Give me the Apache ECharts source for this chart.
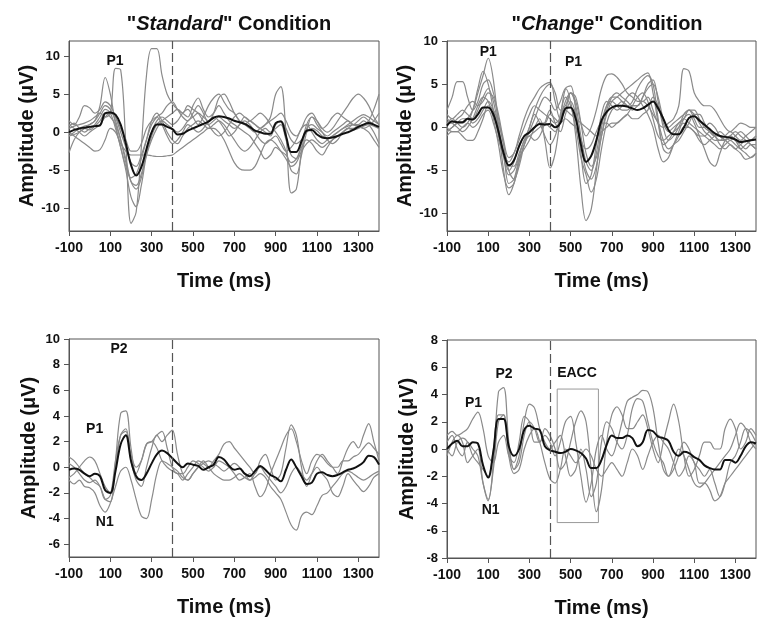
<!DOCTYPE html>
<html>
<head>
<meta charset="utf-8">
<script src="https://cdn.jsdelivr.net/npm/echarts@6/dist/echarts.min.js"></script>
<style>
html,body{margin:0;padding:0;background:#fff;}
#chart{width:757px;height:620px;}
</style>
</head>
<body>
<div id="chart"></div>
<script>
// ---------- shared sampling times (ms) ----------
const TIME = [-100,-75,-50,-25,0,25,50,75,100,125,150,175,200,225,250,275,300,325,350,375,400,425,450,475,500,525,550,575,600,625,650,675,700,725,750,775,800,825,850,875,900,925,950,975,1000,1025,1050,1075,1100,1125,1150,1175,1200,1225,1250,1275,1300,1325,1350,1375,1400];
const X_TICKS = [-100,100,300,500,700,900,1100,1300];

// ---------- Panel A: "Standard" condition, top ----------
const stdTopMean = [0,0.3,0.5,0.6,0.7,0.8,0.9,2.5,2.6,2.3,1.0,-1.5,-4.3,-5.7,-4.6,-2.2,0.0,1.0,1.0,0.7,0.4,-0.3,-0.2,0.2,0.5,0.8,1.1,1.4,1.9,2.1,2.0,1.8,1.5,1.3,1.1,0.7,0.2,0.0,-0.2,-0.2,1.2,1.4,-0.5,-2.6,-2.6,-1.2,0.2,0.3,-0.3,-0.7,-0.8,-0.7,-0.5,-0.2,0.0,0.3,0.7,1.0,1.2,1.0,0.7];
const stdTopS1 = [0.5,0.8,1.0,1.2,1.5,2.0,2.5,2.0,2.5,8.4,8.2,-1.5,-12.0,-10.5,-2.0,7.5,11.0,11.0,7.5,5.0,3.8,3.0,2.5,3.5,3.0,2.5,1.5,1.0,1.5,2.0,1.5,1.0,0.5,1.0,2.0,1.5,1.0,0.5,0.0,-0.5,1.0,1.5,0.5,-1.0,-1.5,-1.0,0.0,0.5,0.2,-0.5,-0.8,-0.5,0.0,0.5,1.0,1.5,2.0,2.3,2.0,1.5,1.0];
const stdTopS2 = [-0.5,0,0.5,0.8,1.0,1.5,3.5,7.2,5.0,1.0,-2.0,-5.0,-8.5,-9.8,-7.0,-3.0,-0.5,1.0,1.5,1.0,0.5,0.0,0.5,1.5,2.0,2.5,2.0,1.5,2.5,4.5,5.0,4.0,2.5,1.5,1.0,1.5,1.0,0.5,1.0,2.0,5.0,6.0,0.0,-8.0,-7.5,-2.5,0.5,1.0,0.5,0.0,-0.5,0.0,0.5,1.0,1.5,1.0,0.8,1.0,1.5,3.0,5.0];
const stdTopS3 = [-2.7,-1.0,0.0,0.5,1.0,1.5,2.5,3.5,3.0,1.5,-1.0,-4.0,-6.5,-7.0,-5.5,-3.0,-1.0,0.5,1.5,2.0,2.5,3.0,2.5,2.0,3.5,4.5,3.0,2.0,2.5,3.5,2.5,1.5,1.0,0.5,0.0,-0.5,-1.5,-2.5,-3.5,-3.0,-2.0,-2.5,-3.0,-4.0,-3.5,-2.0,-1.0,-1.5,-2.5,-3.0,-2.0,-1.0,-0.5,0.0,0.5,0.5,0.8,0.5,0.0,-1.0,-2.0];
const stdTopS4 = [0.0,-0.5,-1.0,-1.5,-2.0,-2.5,-2.3,-1.0,0.5,0.0,-1.5,-2.5,-3.0,-3.0,-3.0,-3.0,-3.1,-3.2,-3.2,-3.1,-3.0,-2.5,-2.0,-1.5,-1.0,-0.5,0.0,0.5,0.5,0.0,-1.0,-2.5,-4.0,-4.8,-5.0,-5.0,-4.5,-3.0,-1.5,-1.0,-1.5,-2.5,-3.5,-4.5,-4.0,-2.5,-1.5,-1.0,-1.5,-2.0,-1.5,-1.0,-0.5,0.0,0.5,0.3,0.5,0.8,1.0,0.8,0.5];
const stdTopS5 = [1.5,1.0,2.0,3.5,3.2,2.5,3.0,4.0,3.5,2.0,0.0,-2.0,-4.0,-4.5,-3.0,-1.0,1.0,2.0,2.5,3.5,4.0,3.0,2.0,1.5,2.5,3.5,2.5,1.0,0.0,-0.5,0.0,1.0,2.0,2.5,2.0,1.5,2.0,2.5,2.0,1.0,0.0,-1.0,-2.5,-5.0,-5.5,-3.0,0.0,2.0,1.5,0.5,0.0,0.5,1.5,2.5,3.5,4.5,5.0,4.5,3.5,2.0,1.0];
const stdTopS6 = [0.8,1.2,0.5,0.0,0.5,1.0,2.0,3.0,2.5,0.5,-2.0,-4.5,-6.0,-5.5,-3.5,-1.0,1.5,2.5,1.5,0.0,-1.0,-1.5,-0.5,0.5,1.0,1.5,1.0,0.5,1.0,1.5,1.0,0.0,-1.0,-2.0,-2.5,-2.0,-1.0,0.0,0.5,0.0,0.5,1.0,-1.0,-3.0,-3.5,-1.5,1.0,2.0,1.0,0.0,-1.0,-1.5,-1.0,0.0,0.5,1.0,1.0,1.5,1.0,0.0,-1.5];
const stdTopS7 = [-0.5,-0.3,0.0,0.5,0.3,0.8,1.5,2.5,2.0,1.0,-1.0,-3.5,-6.5,-7.5,-6.0,-2.5,0.0,1.5,2.0,1.5,1.0,1.5,2.5,3.0,2.0,1.0,2.0,3.5,4.5,5.0,4.0,3.0,2.5,1.5,1.0,0.5,0.0,0.5,1.0,1.5,2.0,2.5,1.5,0.0,-0.5,0.5,2.0,2.5,1.5,0.5,1.0,2.0,2.5,2.0,1.5,1.0,1.5,2.0,1.5,1.0,0.5];
const stdTopS8 = [1.0,0.5,0.0,-0.5,0.0,0.5,1.0,2.0,2.5,2.0,0.5,-1.0,-2.5,-2.5,-1.5,0.5,1.5,2.0,1.0,-0.5,-1.5,-1.0,0.0,1.0,0.5,0.0,0.5,1.5,2.0,1.5,0.5,-0.5,0.0,1.0,1.5,1.0,0.0,-1.0,-1.5,-1.0,-0.5,-1.5,-2.5,-2.0,-1.0,0.5,1.0,0.0,-1.0,-1.5,-1.0,-0.5,0.0,0.5,0.8,1.0,0.8,0.5,0.8,1.5,2.5];

// ---------- Panel B: "Change" condition, top ----------
const chgTopMean = [0.2,0.7,0.6,0.6,1.0,0.9,1.5,2.3,2.3,1.5,-0.5,-3.0,-4.4,-3.8,-2.2,-1.0,-0.6,0.0,0.4,0.3,0.4,0.0,0.5,2.2,2.3,1.0,-2.0,-4.0,-3.3,-1.5,0.8,1.8,2.3,2.5,2.5,2.4,2.2,2.0,2.2,2.6,3.0,2.2,1.0,-0.3,-0.8,-0.8,0.0,1.1,1.3,0.8,0.3,-0.2,-0.7,-1.0,-1.1,-1.2,-1.4,-1.7,-1.6,-1.5,-1.4];
const chgTopS1 = [-0.5,0.0,0.5,0.5,1.0,2.0,4.0,6.0,8.0,5.5,0.0,-5.0,-7.8,-6.5,-4.0,-2.0,-0.5,1.0,2.5,3.5,3.0,2.0,3.0,4.5,3.0,-1.0,-7.0,-10.8,-9.5,-5.0,0.0,2.5,3.5,3.5,3.0,2.5,3.0,4.5,5.5,6.0,5.0,1.0,-2.0,-1.5,-0.5,0.5,1.0,0.5,0.0,-0.5,-1.0,-1.5,-2.0,-2.5,-2.0,-1.5,-2.0,-2.5,-2.0,-1.5,-1.0];
const chgTopS2 = [2.0,3.5,5.3,5.3,3.5,2.0,3.0,5.0,5.5,4.0,1.5,-1.5,-3.5,-3.0,-1.0,1.0,2.5,3.5,4.5,5.0,5.2,3.0,1.0,2.0,4.0,3.0,0.5,-1.0,0.0,2.0,4.5,6.0,6.2,5.8,5.0,4.0,3.5,3.0,3.0,3.5,2.0,0.5,0.0,0.5,1.0,2.5,6.8,6.5,4.0,3.0,2.5,2.5,2.0,1.0,0.0,-0.5,0.0,0.5,0.3,0.0,0.0];
const chgTopS3 = [0.5,1.0,0.5,0.0,0.5,2.0,4.5,6.5,5.0,2.0,-1.0,-3.5,-5.5,-5.0,-3.5,-2.5,-1.5,0.0,1.0,-1.5,-4.7,-3.0,1.0,4.5,4.8,2.0,-3.0,-6.5,-5.5,-2.0,1.5,3.0,2.5,2.0,2.5,3.5,4.0,3.5,2.5,1.5,0.0,-2.5,-4.0,-3.5,-2.0,-0.5,1.0,1.5,0.5,-1.0,-2.5,-4.0,-4.5,-3.0,-1.5,-1.0,-1.5,-2.5,-3.0,-3.5,-3.0];
const chgTopS4 = [-1.0,-0.5,-0.5,-1.0,-1.5,-1.5,-0.5,1.0,2.5,2.0,0.5,-2.0,-5.0,-6.0,-4.5,-2.0,0.0,2.0,3.5,4.5,5.0,4.0,2.0,2.5,4.0,2.5,-1.0,-4.0,-5.0,-3.0,0.5,2.5,3.0,2.5,2.0,2.0,2.5,2.5,3.5,5.0,5.5,3.0,0.0,-1.5,-1.0,0.0,1.5,2.0,1.0,0.0,0.0,0.5,0.0,-1.0,-1.5,-1.0,-0.5,-1.0,-1.5,-2.0,-2.5];
const chgTopS5 = [1.5,1.0,1.5,2.0,1.5,1.0,2.0,3.5,4.5,3.0,0.0,-3.0,-6.5,-6.0,-3.5,-1.5,-1.0,-0.5,0.0,0.5,0.0,-0.5,1.5,3.5,2.5,0.0,-3.5,-5.5,-7.5,-6.0,-2.5,0.5,2.0,2.5,3.0,2.5,2.0,2.5,3.0,2.5,1.5,0.5,-1.5,-2.5,-2.0,-1.0,0.0,0.0,-0.5,-1.0,-1.0,-0.5,-1.0,-2.0,-2.5,-2.0,-2.5,-3.0,-3.7,-3.5,-3.0];
const chgTopS6 = [0.0,-0.5,-0.5,0.0,0.5,0.0,0.5,1.5,2.0,0.5,-1.5,-3.0,-4.0,-3.0,-1.5,0.0,1.5,2.5,2.0,1.5,1.0,0.5,1.0,2.0,1.5,1.0,0.5,0.0,-0.5,-1.0,-0.5,0.0,0.5,0.5,1.0,1.5,2.5,3.5,4.0,3.0,1.0,-1.0,-1.5,-1.0,-0.5,0.0,0.5,0.0,-0.5,-1.5,-2.0,-1.5,-1.0,-0.5,-1.0,-1.5,-1.0,-0.5,-1.0,-1.5,-1.0];
const chgTopS7 = [0.5,0.5,1.0,1.5,2.5,3.0,2.5,3.0,4.0,3.5,1.0,-2.0,-4.5,-4.5,-3.0,-1.5,0.0,1.5,0.5,-1.0,-2.0,-1.0,1.0,3.0,4.0,3.5,0.5,-3.0,-4.5,-3.5,-1.0,1.5,3.0,3.5,4.0,4.5,5.0,5.5,6.0,6.3,4.0,0.5,-2.5,-3.0,-2.0,-1.5,-0.5,0.5,1.5,1.5,0.5,-0.5,-1.0,-1.0,-1.5,-2.0,-2.5,-2.0,-1.5,-2.0,-2.5];
const chgTopS8 = [-0.5,0.0,0.5,1.0,1.0,0.5,1.0,2.0,3.0,2.0,-0.5,-3.0,-5.0,-4.0,-2.0,-1.0,-0.5,0.0,0.5,0.5,1.5,1.0,0.5,1.0,0.5,0.0,-1.5,-2.5,-2.0,-0.5,0.5,0.5,0.0,0.5,1.0,1.5,1.0,1.0,1.5,2.0,3.5,2.5,0.5,-0.5,0.0,0.5,1.0,2.0,2.0,1.0,0.0,-0.5,-1.0,-1.5,-1.5,-1.0,-1.5,-2.0,-2.5,-2.0,-2.0];
const chgTopS9 = [1.0,0.5,0.0,-0.5,0.0,1.0,2.5,3.5,3.0,1.0,-2.0,-5.5,-7.0,-6.5,-4.0,-2.0,-1.0,-1.5,-1.0,0.5,2.0,0.5,-0.5,1.5,3.0,1.5,-2.0,-5.0,-6.0,-4.5,-1.0,2.0,3.5,4.0,3.5,3.0,2.5,2.5,3.5,4.5,5.0,3.5,1.0,0.0,0.5,1.0,1.5,2.0,1.5,0.5,-0.5,-1.0,-1.5,-1.5,-1.0,-0.5,-1.0,-1.5,-1.0,-0.5,0.0];

// ---------- Panel C: "Standard" condition, bottom ----------
const stdBotMean = [-0.2,-0.1,-0.2,-0.5,-0.7,-0.5,-0.7,-1.8,-2.0,-0.3,1.8,2.5,0.5,-0.7,-1.0,-0.5,0.3,1.0,1.3,1.1,0.7,0.3,0.0,0.3,0.2,0.1,-0.2,0.0,0.2,0.8,0.6,0.1,-0.2,-0.1,-0.5,-0.7,-0.3,0.1,-0.2,-0.6,-0.8,-1.1,-0.2,0.6,0.0,-0.7,-1.3,-1.2,-0.5,-0.4,-0.6,-0.7,-0.6,-0.4,-0.2,-0.1,0.1,0.4,0.9,0.8,0.2];
const stdBotS1 = [0.8,0.5,0.0,-0.5,-0.8,-1.2,-1.5,-2.5,-2.7,0.5,4.2,4.4,1.5,-0.5,0.5,1.8,2.0,1.5,0.5,0.0,-0.3,-0.5,-1.0,-0.5,0.0,0.5,0.3,0.0,0.5,1.0,1.8,2.0,1.5,1.0,0.5,0.0,-0.5,0.5,1.0,0.0,-1.0,-0.5,1.5,3.3,2.5,0.0,-1.5,-0.5,0.5,1.0,0.5,0.0,-0.5,0.5,1.5,2.0,1.5,2.5,3.4,2.0,0.5];
const stdBotS2 = [-0.8,-0.5,0.0,0.5,0.8,0.5,-0.5,-1.5,-2.0,0.0,2.5,3.0,1.0,0.0,0.5,1.8,2.0,2.5,2.8,1.5,0.0,-0.5,-0.5,0.0,0.5,0.3,0.0,-0.3,0.0,0.5,0.3,0.0,-0.5,-1.0,-0.8,-0.5,-1.5,-2.3,-1.8,-0.5,0.5,1.5,2.5,3.0,2.0,0.5,-0.5,0.5,1.0,0.8,0.3,0.0,0.0,0.5,0.5,0.8,1.0,1.5,1.9,1.5,1.0];
const stdBotS3 = [0.3,0.0,-0.5,-1.0,-1.2,-1.0,-1.5,-2.5,-2.2,0.5,2.5,2.8,0.5,-1.0,-1.5,0.0,1.5,2.5,2.0,2.5,2.9,1.0,-0.5,-1.0,-0.5,0.0,0.3,0.5,0.3,0.0,-0.3,0.0,0.3,0.0,-0.5,-1.0,-0.5,0.0,-0.5,-1.0,-1.5,-2.0,-1.5,-0.5,0.0,-0.5,-1.0,-0.5,0.0,-0.5,-1.0,-2.0,-2.3,-1.5,-0.5,-1.0,-1.5,-1.9,-1.5,-0.8,-0.5];
const stdBotS4 = [-1.0,-1.3,-1.0,-1.5,-1.6,-2.0,-3.0,-3.5,-2.8,-1.5,-0.3,0.0,-1.0,-2.5,-3.8,-4.0,-2.5,-0.5,0.5,0.3,0.0,-0.3,-0.8,-1.0,-0.5,0.0,0.5,0.0,-0.5,-0.8,-1.0,-1.0,-0.8,-0.5,-0.8,-1.0,-0.8,-0.5,-0.8,-1.5,-2.0,-2.5,-3.5,-4.5,-4.9,-3.8,-3.5,-3.7,-3.0,-2.2,-2.0,-1.5,-1.0,-0.5,-0.3,-0.5,-0.8,-1.0,-0.8,-0.5,-0.3];

// ---------- Panel D: "Change" condition, bottom ----------
const chgBotMean = [0.0,0.4,0.6,0.2,0.2,0.5,0.4,-1.2,-2.1,-0.2,2.2,2.2,0.2,-0.5,0.0,1.4,1.7,1.5,1.4,0.2,-0.1,-0.2,-0.3,-0.2,0.0,-0.1,-0.3,-0.7,-1.4,-1.4,-0.8,0.3,1.0,0.8,0.8,1.0,0.8,0.2,0.5,1.4,1.3,0.9,0.8,0.6,-0.2,-0.5,-0.2,-0.3,-0.6,-0.8,-1.2,-1.4,-1.5,-1.5,-0.8,-0.8,-1.0,-0.5,0.2,0.5,0.4];
const chgBotS1 = [1.0,1.3,1.0,1.2,1.5,2.2,2.7,1.5,-0.5,-1.0,0.5,1.0,-0.5,-1.0,0.5,2.4,2.0,0.5,0.5,1.5,1.0,0.0,-1.5,-1.0,0.5,2.0,2.8,2.0,-1.5,-4.6,-3.0,0.5,2.5,3.1,2.5,1.5,1.5,2.0,2.5,1.5,0.0,-1.0,0.5,2.0,3.3,2.0,-0.5,-2.0,-1.5,-0.5,0.5,0.5,0.0,0.0,1.5,2.2,1.5,0.0,0.5,1.5,1.0];
const chgBotS2 = [-0.5,0.5,1.0,0.5,-1.0,-0.5,0.0,-2.5,-3.8,-1.0,4.2,4.5,0.5,-1.5,-0.5,2.0,3.3,3.0,1.5,0.5,0.0,0.5,1.0,-0.5,-2.0,-1.5,0.0,-1.5,-3.5,-2.5,0.5,2.0,1.5,0.5,0.0,1.0,3.0,3.7,3.5,2.0,0.5,-0.5,-1.0,-2.0,-1.5,-0.5,0.5,0.0,-1.0,-1.5,-2.0,-1.5,-2.5,-3.5,-2.5,-1.0,-0.5,0.5,1.5,1.2,0.5];
const chgBotS3 = [0.5,1.0,0.0,-0.5,0.5,0.0,-0.5,-2.5,-3.7,-1.5,2.0,2.5,0.0,-1.5,-1.0,1.0,2.0,1.5,0.5,1.0,0.5,-0.5,0.5,2.0,2.4,0.5,-2.0,-3.9,-2.5,0.0,1.0,0.0,-0.5,0.5,2.0,3.5,3.8,4.0,4.3,4.2,3.0,0.5,-1.5,-2.0,-1.0,0.0,-0.5,-1.5,-2.5,-2.8,-2.5,-2.0,-1.5,-1.0,-0.5,0.0,1.0,1.9,1.5,0.5,0.0];
const chgBotS4 = [0.0,-0.5,0.5,0.8,0.5,-0.5,-1.0,-1.5,-2.0,0.0,2.5,2.5,-0.5,-1.8,-1.5,0.0,1.0,1.5,0.5,-1.0,-2.2,-2.5,-1.5,0.0,-0.5,-1.0,-0.5,0.0,-0.5,-1.5,-2.0,-1.5,-1.0,-1.5,-2.0,-1.0,0.0,-0.5,-1.5,-0.5,0.5,1.0,0.5,0.0,-1.0,-2.0,-1.5,-0.5,-1.0,-2.5,-2.5,-3.0,-3.8,-3.5,-2.5,-2.0,-1.5,-1.0,-0.5,0.0,0.5];

// ---------- annotations (data units) ----------
const STIM_CHANGE_MS = 400;
const EACC_BOX = [[435, 4.4], [635, -5.4]];
const LABELS_A = [['P1', 123, 9.3]];
const LABELS_B = [['P1', 100, 8.75], ['P1', 514, 7.5]];
const LABELS_C = [['P2', 142, 9.2], ['P1', 24, 3.0], ['N1', 73, -4.25]];
const LABELS_D = [['P1', 29, 3.4], ['P2', 177, 5.5], ['N1', 112, -4.5], ['EACC', 531, 5.6]];

const PANELS = [
  {grays:[stdTopS1,stdTopS2,stdTopS3,stdTopS4,stdTopS5,stdTopS6,stdTopS7,stdTopS8], mean:stdTopMean, yMin:-13, yMax:12, yTicks:[-10,-5,0,5,10], labels:LABELS_A},
  {grays:[chgTopS1,chgTopS2,chgTopS3,chgTopS4,chgTopS5,chgTopS6,chgTopS7,chgTopS8,chgTopS9], mean:chgTopMean, yMin:-12, yMax:10, yTicks:[-10,-5,0,5,10], labels:LABELS_B},
  {grays:[stdBotS1,stdBotS2,stdBotS3,stdBotS4], mean:stdBotMean, yMin:-7, yMax:10, yTicks:[-6,-4,-2,0,2,4,6,8,10], labels:LABELS_C},
  {grays:[chgBotS1,chgBotS2,chgBotS3,chgBotS4], mean:chgBotMean, yMin:-8, yMax:8, yTicks:[-8,-6,-4,-2,0,2,4,6,8], labels:LABELS_D, box:EACC_BOX}
];

const FONT = '"Liberation Sans", Arial, sans-serif';
const GRIDS = [
  {left:69, top:41, width:310, height:190},
  {left:447, top:41, width:309, height:190},
  {left:69, top:339, width:310, height:218},
  {left:447, top:340, width:309, height:218}
];

const pairs = vals => TIME.map((t, i) => [t, vals[i]]);
const plain = v => String(v);

const option = {
  animation: false,
  backgroundColor: '#fff',
  title: [
    {text: '"{i|Standard}" Condition', left: 224, top: 9, textAlign: 'center',
     textStyle: {fontFamily: FONT, fontSize: 20, fontWeight: 'bold', color: '#111',
       rich: {i: {fontFamily: FONT, fontSize: 20, fontWeight: 'bold', fontStyle: 'italic', color: '#111'}}}},
    {text: '"{i|Change}" Condition', left: 602, top: 9, textAlign: 'center',
     textStyle: {fontFamily: FONT, fontSize: 20, fontWeight: 'bold', color: '#111',
       rich: {i: {fontFamily: FONT, fontSize: 20, fontWeight: 'bold', fontStyle: 'italic', color: '#111'}}}}
  ],
  grid: GRIDS.map(g => Object.assign({show: true, borderColor: '#555', borderWidth: 1, backgroundColor: 'transparent'}, g)),
  xAxis: GRIDS.map((g, i) => ({
    type: 'value', gridIndex: i, min: -100, max: 1400,
    name: 'Time (ms)', nameLocation: 'middle', nameGap: 40,
    nameTextStyle: {fontFamily: FONT, fontSize: 20, fontWeight: 'bold', color: '#111'},
    axisLine: {show: true, onZero: false, lineStyle: {color: '#555', width: 1}},
    axisTick: {show: true, length: 5, lineStyle: {color: '#555'}, customValues: X_TICKS},
    axisLabel: {fontFamily: FONT, fontSize: 14, fontWeight: 'bold', color: '#111', margin: 10, customValues: X_TICKS, formatter: plain},
    splitLine: {show: false}
  })),
  yAxis: PANELS.map((p, i) => ({
    type: 'value', gridIndex: i, min: p.yMin, max: p.yMax,
    name: 'Amplitude (\u03bcV)', nameLocation: 'middle', nameGap: 30,
    nameTextStyle: {fontFamily: FONT, fontSize: 20, fontWeight: 'bold', color: '#111'},
    axisLine: {show: true, onZero: false, lineStyle: {color: '#555', width: 1}},
    axisTick: {show: true, length: 5, lineStyle: {color: '#555'}, customValues: p.yTicks},
    axisLabel: {fontFamily: FONT, fontSize: 13, fontWeight: 'bold', color: '#111', margin: 9, customValues: p.yTicks, formatter: plain},
    splitLine: {show: false}
  })),
  series: []
};

PANELS.forEach((p, i) => {
  p.grays.forEach(vals => {
    option.series.push({
      type: 'line', xAxisIndex: i, yAxisIndex: i, data: pairs(vals),
      showSymbol: false, smooth: 0.35, silent: true, z: 2,
      lineStyle: {color: '#8a8a8a', width: 1.2}
    });
  });
  const meanSeries = {
    type: 'line', xAxisIndex: i, yAxisIndex: i, data: pairs(p.mean),
    showSymbol: false, smooth: 0.35, silent: true, z: 4,
    lineStyle: {color: '#111', width: 2},
    markLine: {
      silent: true, symbol: ['none', 'none'], label: {show: false},
      lineStyle: {color: '#555', type: [9, 4], width: 1.2},
      data: [{xAxis: STIM_CHANGE_MS}]
    },
    markPoint: {
      silent: true, symbol: 'circle', symbolSize: 0,
      label: {show: true, position: 'inside', fontFamily: FONT, fontSize: 14, fontWeight: 'bold', color: '#111',
        formatter: prm => prm.name},
      data: p.labels.map(l => ({name: l[0], coord: [l[1], l[2]]}))
    }
  };
  if (p.box) {
    meanSeries.markArea = {
      silent: true,
      itemStyle: {color: 'rgba(0,0,0,0)', borderColor: '#999', borderWidth: 1},
      data: [[{coord: p.box[0]}, {coord: p.box[1]}]]
    };
  }
  option.series.push(meanSeries);
});

const chart = echarts.init(document.getElementById('chart'), null, {renderer: 'canvas'});
chart.setOption(option);
</script>
</body>
</html>
